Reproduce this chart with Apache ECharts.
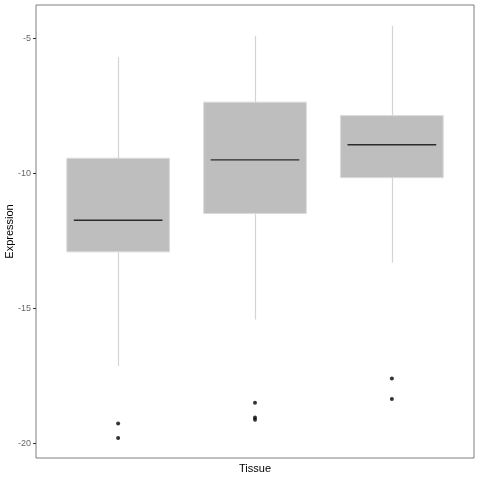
<!DOCTYPE html>
<html>
<head>
<meta charset="utf-8">
<script src="https://cdn.jsdelivr.net/npm/echarts@6/dist/echarts.min.js"></script>
<style>html,body{margin:0;padding:0;background:#fff;}#c{width:480px;height:480px;}</style>
</head>
<body>
<div id="c"></div>
<script>
// Box positions (discrete tissue groups, no visible labels)
var positions = [1, 2, 3];
// Box statistics per group
var whiskerLow = [-17.13, -15.41, -13.30];
var q1 = [-12.90, -11.48, -10.15];
var medians = [-11.73, -9.49, -8.93];
var q3 = [-9.43, -7.35, -7.85];
var whiskerHigh = [-5.68, -4.89, -4.53];
// Outliers: group position and value
var outlierGroup = [1, 1, 2, 2, 2, 3, 3];
var outlierValue = [-19.26, -19.80, -18.49, -19.04, -19.12, -17.59, -18.35];
// Axis ticks
var yTicks = [-20, -15, -10, -5];

var boxData = positions.map(function (p, i) {
  return [p, whiskerLow[i], q1[i], medians[i], q3[i], whiskerHigh[i]];
});
var outlierData = outlierGroup.map(function (g, i) { return [g, outlierValue[i]]; });

var chart = echarts.init(document.getElementById('c'), null, { renderer: 'canvas' });
chart.setOption({
  animation: false,
  backgroundColor: '#ffffff',
  grid: {
    left: 36, top: 5, width: 438, height: 453,
    containLabel: false, outerBoundsMode: 'none',
    show: true, borderColor: '#7f7f7f', borderWidth: 1, backgroundColor: '#ffffff'
  },
  xAxis: {
    type: 'value', min: 0.4, max: 3.6,
    name: 'Tissue', nameLocation: 'middle', nameGap: 5, nameMoveOverlap: false,
    nameTextStyle: { color: '#000', fontSize: 11, fontFamily: 'Liberation Sans, Arial, sans-serif' },
    axisLine: { show: false }, axisTick: { show: false }, axisLabel: { show: false },
    splitLine: { show: false }
  },
  yAxis: {
    type: 'value', min: -20.54, max: -3.75,
    name: 'Expression', nameLocation: 'middle', nameGap: 21, nameRotate: 90, nameMoveOverlap: false,
    nameTextStyle: { color: '#000', fontSize: 11, fontFamily: 'Liberation Sans, Arial, sans-serif' },
    axisLine: { show: false },
    axisTick: { show: true, length: 3, customValues: yTicks, lineStyle: { color: '#333333', width: 1 } },
    axisLabel: { customValues: yTicks, color: '#666666', fontSize: 9, margin: 5,
      fontFamily: 'Liberation Sans, Arial, sans-serif' },
    splitLine: { show: false }
  },
  series: [
    {
      type: 'custom',
      data: boxData,
      encode: { x: 0, y: [1, 2, 3, 4, 5] },
      renderItem: function (params, api) {
        var x = api.value(0);
        var bw = api.size([1, 0])[0] * 0.75;
        var pLow = api.coord([x, api.value(1)]);
        var pQ1 = api.coord([x, api.value(2)]);
        var pMed = api.coord([x, api.value(3)]);
        var pQ3 = api.coord([x, api.value(4)]);
        var pHigh = api.coord([x, api.value(5)]);
        var cx = Math.round(pMed[0]) + 0.5;
        return {
          type: 'group',
          children: [
            { type: 'line', shape: { x1: cx, y1: pHigh[1], x2: cx, y2: pQ3[1] },
              style: { stroke: '#d4d4d4', lineWidth: 1.2 } },
            { type: 'line', shape: { x1: cx, y1: pQ1[1], x2: cx, y2: pLow[1] },
              style: { stroke: '#d4d4d4', lineWidth: 1.2 } },
            { type: 'rect', shape: { x: pMed[0] - bw / 2, y: pQ3[1], width: bw, height: pQ1[1] - pQ3[1] },
              style: { fill: '#bebebe', stroke: '#dadada', lineWidth: 1 } },
            { type: 'line', shape: { x1: pMed[0] - bw / 2 + 7, y1: pMed[1], x2: pMed[0] + bw / 2 - 7, y2: pMed[1] },
              style: { stroke: '#2b2b2b', lineWidth: 1.4 } }
          ]
        };
      }
    },
    {
      type: 'scatter',
      data: outlierData,
      symbol: 'circle',
      symbolSize: 4,
      itemStyle: { color: '#000000' }
    }
  ]
});
</script>
</body>
</html>
